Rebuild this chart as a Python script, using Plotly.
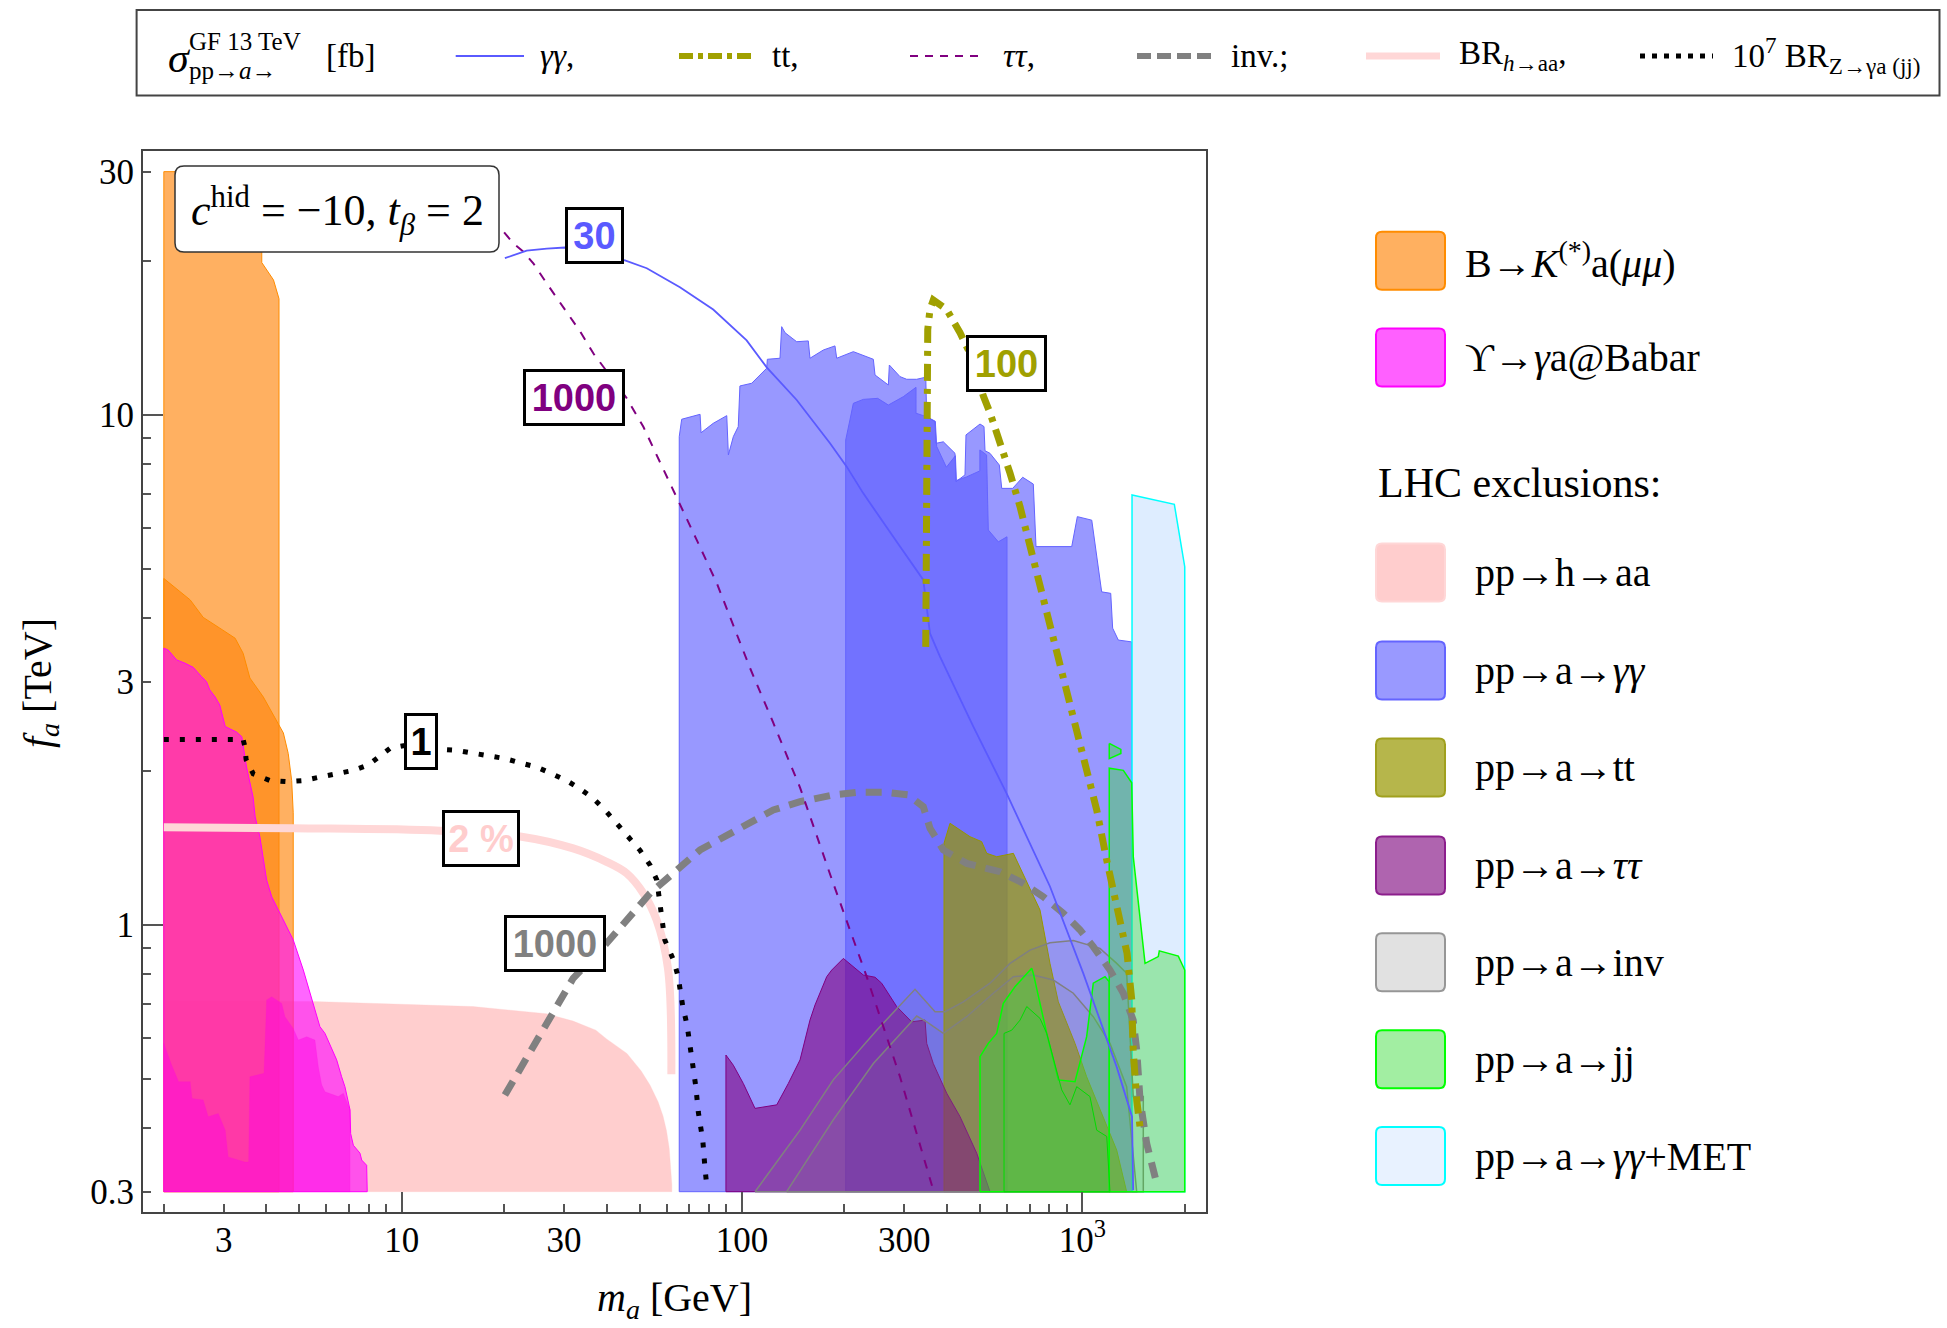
import numpy as np
import plotly.graph_objects as go

# ---------------- data: m_a [GeV] (x) and f_a [TeV] (y) ----------------
# B -> K(*) a(mu mu): two overlapping regions
bk_a_x = [2, 2, 3.88, 3.88, 4.2, 4.36, 4.36]
bk_a_y = [0.3, 30, 30, 19.9, 18.4, 16.9, 0.3]
bk_b_x = [2, 2, 2.39, 2.555, 2.61, 2.92, 3.24, 3.42, 3.58, 3.92, 4.29, 4.49, 4.64, 4.75, 4.8, 4.8]
bk_b_y = [0.3, 4.78, 4.34, 4.08, 4.01, 3.82, 3.65, 3.41, 3.05, 2.80, 2.52, 2.38, 2.17, 1.92, 1.66, 0.3]

# Upsilon -> gamma a @ Babar: two overlapping regions
ups1_x = [2, 2, 2.06, 2.18, 2.31, 2.44, 2.58, 2.67, 2.73, 2.83, 2.92, 3.03, 3.27, 3.39, 3.50, 3.66, 3.71, 3.83,
          4.01, 4.15, 4.49, 4.80, 5.14, 5.50, 5.75, 5.95, 6.44, 6.66, 6.81, 7.05, 7.08, 7.21, 7.54, 7.63, 7.89, 7.92]
ups1_y = [0.3, 3.49, 3.46, 3.31, 3.26, 3.20, 3.07, 3.00, 2.89, 2.80, 2.70, 2.45, 2.39, 2.34, 2.04, 1.78, 1.63, 1.49,
          1.225, 1.136, 1.023, 0.935, 0.816, 0.702, 0.632, 0.613, 0.544, 0.504, 0.482, 0.434, 0.390, 0.370, 0.357,
          0.346, 0.338, 0.3]
ups2_x = [2, 2, 2.10, 2.21, 2.39, 2.42, 2.61, 2.70, 2.89, 3.03, 3.09, 3.46, 3.55, 3.58, 3.94, 4.01, 4.15, 4.44,
          4.54, 4.80, 4.97, 5.26, 5.56, 5.69, 5.82, 5.95, 6.51, 6.74, 7.05, 7.05]
ups2_y = [0.3, 0.586, 0.535, 0.493, 0.493, 0.457, 0.454, 0.421, 0.427, 0.396, 0.351, 0.343, 0.343, 0.504, 0.512,
          0.713, 0.723, 0.702, 0.661, 0.627, 0.595, 0.604, 0.595, 0.527, 0.486, 0.471, 0.461, 0.468, 0.434, 0.3]

# pp -> h -> aa
haa_x = [2, 2, 5.5, 10.3, 16.2, 26.6, 31.9, 37.2, 40.0, 45.9, 50.5, 53.7, 56.7, 58.6, 60.0, 61.1, 61.8, 62.2, 62.2]
haa_y = [0.3, 0.71, 0.708, 0.700, 0.692, 0.670, 0.648, 0.622, 0.598, 0.560, 0.518, 0.485, 0.450, 0.422, 0.395,
         0.365, 0.335, 0.31, 0.3]

# pp -> a -> gamma gamma (two overlapping analyses)
gga_x = [65.4, 65.4, 66.5, 75.3, 75.8, 82.3, 90.2, 91.2, 94.3, 97.5, 98.6, 106.8, 118.2, 118.7, 129.3, 130.8,
         133.8, 144.8, 156.6, 158.4, 173.4, 187.6, 189.8, 212.4, 243.2, 246, 269.2, 271, 291.3, 304.8, 326.1,
         346.7, 349, 369.2, 371.7, 390.5, 422.6, 425.5, 452.1, 455.2, 500.5, 514.2, 517.7, 535.5, 570.3, 579.7,
         624.4, 668.1, 717.8, 731.1, 930.9, 967, 1066, 1140, 1212, 1228, 1276, 1397, 1397]
gga_y = [0.3, 9.07, 9.81, 10.03, 9.23, 9.63, 9.97, 8.35, 9.07, 9.49, 11.4, 11.54, 12.35, 12.86, 12.92, 14.9,
         14.5, 13.92, 13.97, 12.92, 13.41, 13.66, 12.92, 13.31, 12.86, 11.98, 11.45, 12.53, 11.89, 11.75, 11.75,
         11.86, 9.92, 9.70, 8.80, 8.86, 8.41, 7.40, 7.63, 9.14, 9.60, 9.49, 8.51, 8.41, 7.98, 7.18,
         7.18, 7.55, 7.32, 5.52, 5.52, 6.32, 6.22, 4.50, 4.47, 3.82, 3.62, 3.59, 0.3]
ggb_x = [201.7, 201.7, 207.6, 212.4, 227.2, 250.5, 269.2, 297.8, 324.6, 324.6, 349, 369.9, 373.2, 398.7, 423.8,
         426.4, 456.8, 500.1, 500.1, 523.3, 529.4, 566.6, 600.8, 600.8]
ggb_y = [0.3, 8.93, 9.78, 10.54, 10.73, 10.78, 10.46, 10.86, 11.33, 10.08, 9.92, 9.72, 8.68, 7.90, 8.32,
         7.44, 7.56, 7.77, 8.54, 8.35, 5.95, 5.64, 5.77, 0.3]

# pp -> a -> gamma gamma + MET
met_x = [1400, 1400, 1864, 2000, 2000]
met_y = [0.3, 6.97, 6.68, 5.04, 0.3]

# pp -> a -> tt
tt_x = [392.3, 392.3, 408.6, 467.7, 506.1, 523.9, 560.5, 627.2, 751.1, 803.5, 850.2, 951.9, 1030, 1127, 1262, 1350]
tt_y = [0.3, 1.446, 1.583, 1.49, 1.457, 1.382, 1.361, 1.382, 1.07, 0.841, 0.707, 0.586, 0.504, 0.434, 0.362, 0.3]

# pp -> a -> tau tau
tau_x = [89.7, 89.7, 94.3, 100.9, 109.2, 126.5, 136.8, 148.1, 158.4, 163.9, 177.4, 183.5, 198.5, 227.2, 246,
         257.3, 284.8, 315.2, 345, 349, 364.9, 399.5, 437.2, 489.4, 535.5]
tau_y = [0.3, 0.556, 0.531, 0.489, 0.437, 0.444, 0.489, 0.544, 0.651, 0.697, 0.792, 0.816, 0.860, 0.798, 0.790,
         0.769, 0.692, 0.646, 0.651, 0.586, 0.535, 0.468, 0.421, 0.357, 0.3]

# pp -> a -> inv (two curves)
inv1_x = [109.2, 148.1, 185.4, 248.8, 322.4, 369.2, 395, 447, 535.5, 613.2, 702.2, 803.5, 941, 1127, 1262, 1350,
          1412, 1511, 1511]
inv1_y = [0.3, 0.396, 0.497, 0.622, 0.748, 0.676, 0.676, 0.707, 0.769, 0.841, 0.893, 0.923, 0.932, 0.9, 0.841,
          0.804, 0.461, 0.461, 0.3]
inv2_x = [135.3, 185.4, 243.2, 326.1, 349, 390.5, 457.4, 547.6, 627.2, 717.8, 821.8, 941, 1077, 1206, 1350, 1445]
inv2_y = [0.3, 0.415, 0.535, 0.663, 0.646, 0.613, 0.661, 0.735, 0.792, 0.798, 0.78, 0.735, 0.661, 0.586, 0.482, 0.3]

# pp -> a -> jj (several pieces)
jj1_x = [1200, 1200, 1320, 1397, 1412, 1529, 1672, 1684, 1915, 2000, 2000]
jj1_y = [0.3, 2.03, 2.01, 1.90, 1.36, 0.841, 0.867, 0.890, 0.869, 0.816, 0.3]
jj0_x = [1200, 1298, 1298, 1200]
jj0_y = [2.27, 2.21, 2.17, 2.12]
jj2_x = [500.5, 500.5, 529.4, 560.5, 586.1, 634.3, 710.1, 717.8, 786.1, 850.2, 951.9, 1030, 1077.2, 1166, 1200, 1200]
jj2_y = [0.3, 0.552, 0.586, 0.613, 0.702, 0.757, 0.823, 0.804, 0.613, 0.497, 0.493, 0.604, 0.769, 0.792, 0.774, 0.3]
jj3_x = [588.8, 588.8, 620.3, 656.3, 686.7, 751.1, 786.1, 870, 920, 963, 1053, 1102.6, 1180, 1206]
jj3_y = [0.3, 0.613, 0.622, 0.651, 0.692, 0.656, 0.613, 0.475, 0.444, 0.482, 0.461, 0.396, 0.385, 0.3]

# contour lines
br2_x = [2, 4.8, 12.96, 22.5, 31.9, 40, 45.8, 51.3, 56.1, 60.6, 62.0]
br2_y = [1.555, 1.548, 1.531, 1.49, 1.413, 1.33, 1.263, 1.154, 1.023, 0.822, 0.51]

zga_x = [2, 3.42, 3.46, 3.49, 3.66, 4.10, 4.59, 5.14, 5.75, 6.44, 7.21, 7.98, 8.64, 9.24, 11.36, 12.96, 14.51,
         16.23, 17.97, 20.12, 22.27, 24.93, 27.6, 30.5, 33.4, 36.6, 39.6, 42.8, 46.3, 50.2, 53.7, 56.2, 59.3,
         63.0, 64.9, 66.9, 69.0, 71.1, 73.2, 74.4, 76.7, 77.9, 79.0]
zga_y = [2.31, 2.31, 2.24, 2.11, 1.98, 1.92, 1.91, 1.92, 1.95, 1.98, 2.01, 2.06, 2.15, 2.22, 2.28, 2.21, 2.20,
         2.17, 2.14, 2.12, 2.08, 2.04, 1.98, 1.92, 1.85, 1.77, 1.68, 1.58, 1.49, 1.40, 1.31, 1.225, 0.935,
         0.852, 0.792, 0.696, 0.635, 0.557, 0.481, 0.43, 0.378, 0.332, 0.303]

xinv_x = [20.1, 31.9, 40.0, 53.7, 75.3, 94.3, 123.6, 148.1, 185.4, 217.2, 266.2, 308.1, 341.0, 356.8, 390.5,
          457.4, 572.8, 670.8, 768.1, 879.6, 984.5, 1077, 1206, 1320, 1411, 1445, 1478, 1546, 1655]
xinv_y = [0.464, 0.786, 0.921, 1.154, 1.403, 1.524, 1.681, 1.745, 1.799, 1.82, 1.82, 1.799, 1.706, 1.548, 1.403,
          1.321, 1.272, 1.207, 1.136, 1.054, 0.978, 0.907, 0.816, 0.735, 0.651, 0.569, 0.454, 0.373, 0.311]

xtau_x = [20.0, 21.3, 22.8, 24.4, 26.7, 29.8, 33.4, 36.6, 45.8, 51.3, 57.4, 64.3, 73.6, 84.3, 94.3, 105.6, 123.6,
          148.1, 185.4, 232.5, 291.3, 364.9]
xtau_y = [22.8, 21.7, 20.9, 19.8, 18.1, 16.3, 14.6, 13.2, 10.8, 9.48, 8.1, 6.92, 5.69, 4.68, 3.85, 3.19, 2.49,
          1.86, 1.207, 0.792, 0.504, 0.302]

xgg_x = [20.1, 23.3, 26.7, 30.2, 45.3, 52.5, 65.7, 82.3, 103.2, 118.2, 144.8, 181.4, 203.1, 227.2, 291.3, 341,
         356.8, 381.8, 478.4, 599.6, 803.5, 1006.7, 1262, 1400, 1411]
xgg_y = [20.3, 21.0, 21.2, 21.3, 20.1, 19.4, 17.8, 16.1, 14.0, 12.4, 10.7, 8.80, 7.92, 7.02, 5.52, 4.75, 3.73,
         3.36, 2.45, 1.81, 1.19, 0.804, 0.527, 0.421, 0.302]

xtt_x = [346.7, 347.4, 349, 351.4, 356.8, 364.9, 399.5, 437.2, 478.4, 511.7, 535.5, 566.6, 613.2, 656.3, 702.2,
         751.1, 803.5, 859.8, 919.8, 984.5, 1053, 1102.6, 1179.7, 1262, 1353.6, 1397.5, 1411, 1445, 1477.7]
xtt_y = [3.51, 6.42, 11.4, 14.7, 16.1, 16.8, 16.1, 14.5, 12.8, 10.9, 10.1, 9.07, 7.69, 6.61, 5.52, 4.54, 3.79,
         3.16, 2.68, 2.24, 1.87, 1.68, 1.34, 1.086, 0.88, 0.713, 0.569, 0.454, 0.402]

# contour labels
lab_text = ["30", "1000", "100", "1", "2 %", "1000"]
lab_x = [36.9, 32.1, 597.6, 11.36, 17.1, 28.2]
lab_y = [22.5, 10.8, 12.6, 2.285, 1.48, 0.919]

# ticks
x_major = [3, 10, 30, 100, 300, 1000]
x_major_text = ["3", "10", "30", "100", "300", "10<sup>3</sup>"]
x_minor = [2, 4, 5, 6, 7, 8, 9, 20, 40, 50, 60, 70, 80, 90, 200, 400, 500, 600, 700, 800, 900, 2000]
x_long = [10, 100, 1000]
y_major = [0.3, 1, 3, 10, 30]
y_major_text = ["0.3", "1", "3", "10", "30"]
y_minor = [0.4, 0.5, 0.6, 0.7, 0.8, 0.9, 2, 4, 5, 6, 7, 8, 9, 20]
y_long = [1, 10]

# ---------------- figure ----------------
W, H = 1947, 1328
PX0, PX1, PY0, PY1 = 143, 1206, 151, 1212
XR = [0.2398, 3.3635]
YR = [-0.5627, 1.5176]


def pxp(v):
    return (v - PX0) / (PX1 - PX0)


def pyp(v):
    return (PY1 - v) / (PY1 - PY0)


fig = go.Figure()


def poly(x, y, fill, lcol, lw):
    fig.add_trace(go.Scatter(x=list(x) + [x[0]], y=list(y) + [y[0]], mode="lines", fill="toself",
                             fillcolor=fill, line=dict(color=lcol, width=lw),
                             hoverinfo="skip", showlegend=False))


def curve(x, y, col, lw, dash, shape="linear"):
    fig.add_trace(go.Scatter(x=x, y=y, mode="lines", line=dict(color=col, width=lw, dash=dash, shape=shape),
                             hoverinfo="skip", showlegend=False))


ORANGE_F = "rgba(255,133,12,0.65)"
MAG_F = "rgba(255,0,255,0.6)"
PINK_F = "rgba(255,190,190,0.75)"
BLUE_F = "rgba(92,92,255,0.63)"
MET_F = "rgba(200,225,255,0.6)"
OLIVE_F = "rgba(150,150,0,0.7)"
PURP_F = "rgba(128,0,128,0.6)"
INV_F = "rgba(128,128,128,0.12)"
GREEN_F = "rgba(60,220,60,0.42)"

poly(haa_x, haa_y, PINK_F, "rgba(255,200,200,0.6)", 0.5)
poly(bk_a_x, bk_a_y, ORANGE_F, "rgb(255,140,0)", 1)
poly(bk_b_x, bk_b_y, ORANGE_F, "rgb(255,140,0)", 1)
poly(ups1_x, ups1_y, MAG_F, "rgb(255,0,255)", 1)
poly(ups2_x, ups2_y, "rgba(255,0,230,0.45)", "rgba(255,0,230,0.3)", 0.5)
poly(gga_x, gga_y, BLUE_F, "rgb(100,100,255)", 1)
poly(ggb_x, ggb_y, BLUE_F, "rgb(100,100,255)", 1)
poly(met_x, met_y, MET_F, "rgb(0,255,255)", 1.5)
poly(tt_x, tt_y, OLIVE_F, "rgb(150,150,0)", 1)
poly(tau_x, tau_y, PURP_F, "rgb(128,0,128)", 1)
poly(inv1_x, inv1_y, INV_F, "rgb(128,128,128)", 1.5)
poly(inv2_x, inv2_y, INV_F, "rgb(128,128,128)", 1.5)
poly(jj1_x, jj1_y, GREEN_F, "rgb(0,255,0)", 1.5)
poly(jj0_x, jj0_y, GREEN_F, "rgb(0,255,0)", 1.5)
poly(jj2_x, jj2_y, GREEN_F, "rgb(0,255,0)", 1.5)
poly(jj3_x, jj3_y, "rgba(60,200,60,0.28)", "rgb(0,220,0)", 1)

curve(br2_x, br2_y, "rgb(255,215,215)", 8, "solid", "spline")
curve(zga_x, zga_y, "black", 5, "5px,11px")
curve(xinv_x, xinv_y, "rgb(128,128,128)", 7, "16px,10px")
curve(xtau_x, xtau_y, "rgb(128,0,128)", 2, "9px,9px")
curve(xgg_x, xgg_y, "rgb(90,90,255)", 1.8, "solid")
curve(xtt_x, xtt_y, "rgb(160,160,0)", 7, "17px,8px,5px,8px")

# overlay axes carrying the longer decade ticks
fig.add_trace(go.Scatter(x=[], y=[], xaxis="x2", yaxis="y2", showlegend=False, hoverinfo="skip"))

SERIF = "Liberation Serif"
SANS = "Liberation Sans"
TICKC = "#555555"

fig.update_layout(
    width=W, height=H,
    margin=dict(l=PX0, r=W - PX1, t=PY0, b=H - PY1, autoexpand=False),
    plot_bgcolor="white", paper_bgcolor="white", showlegend=False,
    font=dict(family=SERIF, size=34, color="black"),
    xaxis=dict(type="log", range=XR, tickmode="array", tickvals=x_major, ticktext=x_major_text,
               ticks="inside", ticklen=8, tickwidth=1.5, tickcolor=TICKC, ticklabelstandoff=-4,
               showline=True, linecolor="#444444", linewidth=2, mirror=True,
               showgrid=False, zeroline=False, tickfont=dict(family=SERIF, size=35),
               minor=dict(tickmode="array", tickvals=x_minor, ticks="inside", ticklen=8, tickwidth=1.5,
                          tickcolor=TICKC, showgrid=False)),
    yaxis=dict(type="log", range=YR, tickmode="array", tickvals=y_major, ticktext=y_major_text,
               ticks="inside", ticklen=8, tickwidth=1.5, tickcolor=TICKC,
               showline=True, linecolor="#444444", linewidth=2, mirror=True,
               showgrid=False, zeroline=False, tickfont=dict(family=SERIF, size=35),
               minor=dict(tickmode="array", tickvals=y_minor, ticks="inside", ticklen=8, tickwidth=1.5,
                          tickcolor=TICKC, showgrid=False)),
    xaxis2=dict(type="log", range=XR, overlaying="x", anchor="y", side="bottom", tickmode="array",
                tickvals=x_long, ticks="inside", ticklen=20, tickwidth=1.5, tickcolor=TICKC,
                showticklabels=False, showline=False, showgrid=False, zeroline=False),
    yaxis2=dict(type="log", range=YR, overlaying="y", anchor="x", side="left", tickmode="array",
                tickvals=y_long, ticks="inside", ticklen=20, tickwidth=1.5, tickcolor=TICKC,
                showticklabels=False, showline=False, showgrid=False, zeroline=False),
)

shapes = []
ann = []


def rrect(x0, y0, x1, y1, r, fill, lcol, lw):
    rx = r / (PX1 - PX0)
    ry = r / (PY1 - PY0)
    a0, a1 = pxp(x0), pxp(x1)
    b0, b1 = pyp(y1), pyp(y0)  # b0 bottom, b1 top
    path = (f"M {a0 + rx},{b0} L {a1 - rx},{b0} Q {a1},{b0} {a1},{b0 + ry} "
            f"L {a1},{b1 - ry} Q {a1},{b1} {a1 - rx},{b1} L {a0 + rx},{b1} Q {a0},{b1} {a0},{b1 - ry} "
            f"L {a0},{b0 + ry} Q {a0},{b0} {a0 + rx},{b0} Z")
    shapes.append(dict(type="path", path=path, xref="paper", yref="paper", fillcolor=fill,
                       line=dict(color=lcol, width=lw), layer="above"))


def text(xp, yp, s, size, anchor="left", family=SERIF, color="black", angle=0):
    ann.append(dict(x=pxp(xp), y=pyp(yp), xref="paper", yref="paper", text=s, showarrow=False,
                    xanchor=anchor, yanchor="middle", textangle=angle,
                    font=dict(family=family, size=size, color=color)))


# parameter box
rrect(175, 166, 499, 252, 9, "white", "#333333", 1.5)
text(337, 211, "<i>c</i><sup>hid</sup> = −10, <i>t</i><sub><i>β</i></sub> = 2", 44, "center")

# contour labels (data coordinates)
lab_col = ["rgb(90,90,255)", "rgb(128,0,128)", "rgb(160,160,0)", "black", "rgb(255,205,205)", "rgb(128,128,128)"]
lab_w = [53, 96, 75, 28, 72, 96]
for t, lx, ly, c, w in zip(lab_text, lab_x, lab_y, lab_col, lab_w):
    ann.append(dict(x=np.log10(lx), y=np.log10(ly), xref="x", yref="y", text=f"<b>{t}</b>", showarrow=False,
                    xanchor="center", yanchor="middle", width=w, height=51, bgcolor="white",
                    bordercolor="black", borderwidth=3, borderpad=0,
                    font=dict(family=SANS, size=38, color=c)))

# axis titles
text(674, 1300, "<i>m</i><sub><i>a</i></sub> [GeV]", 40, "center")
text(40, 683, "<i>f</i><sub><i>a</i></sub> [TeV]", 40, "center", angle=-90)

# top legend box
shapes.append(dict(type="rect", xref="paper", yref="paper", x0=pxp(136.6), x1=pxp(1939.5),
                   y0=pyp(95.6), y1=pyp(9.9), line=dict(color="#444444", width=2), fillcolor="white",
                   layer="above"))
TY = 56
text(166, TY + 2, "<i>σ</i>", 42)
text(187, 41, "GF 13 TeV", 25)
text(187, 70, "pp→<i>a</i>→", 25)
text(324, TY, "[fb]", 33)
samples = [(455.7, 524, "rgb(90,90,255)", 2, "solid", 537.6, "<i>γγ</i>,"),
           (679, 754, "rgb(160,160,0)", 6, "14px,5px,5px,5px", 770, "tt,"),
           (910, 983, "rgb(128,0,128)", 2, "8px,7px", 1000.8, "<i>ττ</i>,"),
           (1137, 1213, "rgb(128,128,128)", 6, "14px,6px", 1229.3, "inv.;"),
           (1366, 1440, "rgb(255,215,215)", 7, "solid", 1456.5, "BR<sub><i>h</i>→aa</sub>,"),
           (1640, 1713, "black", 5, "5px,7px", 1730, "10<sup>7</sup> BR<sub>Z→γa (jj)</sub>")]
for x0, x1, c, lw, d, tx, s in samples:
    shapes.append(dict(type="line", xref="paper", yref="paper", x0=pxp(x0), x1=pxp(x1), y0=pyp(TY),
                       y1=pyp(TY), line=dict(color=c, width=lw, dash=d), layer="above"))
    text(tx, TY, s, 33)

# right legend
leg_labels = ["B→<i>K</i><sup>(*)</sup>a(<i>μμ</i>)", "ϒ→<i>γ</i>a@Babar", "pp→h→aa", "pp→a→<i>γγ</i>",
              "pp→a→tt", "pp→a→<i>ττ</i>", "pp→a→inv", "pp→a→jj", "pp→a→<i>γγ</i>+MET"]
leg_fill = ["rgb(255,176,96)", "rgb(255,96,255)", "rgb(255,205,205)", "rgb(153,153,255)", "rgb(182,182,75)",
            "rgb(175,100,175)", "rgb(225,225,225)", "rgb(162,238,162)", "rgb(232,242,255)"]
leg_line = ["rgb(255,140,0)", "rgb(255,0,255)", "rgb(255,215,215)", "rgb(100,100,255)", "rgb(160,160,30)",
            "rgb(140,30,140)", "rgb(150,150,150)", "rgb(0,255,0)", "rgb(0,255,255)"]
leg_yc = [260.8, 357.6, 572.4, 670.5, 767.4, 865.5, 962.3, 1059.2, 1156]
leg_tx = [1462.7, 1462.7] + [1472.6] * 7
for s, f, l, yc, tx in zip(leg_labels, leg_fill, leg_line, leg_yc, leg_tx):
    rrect(1376, yc - 29, 1445, yc + 29, 6, f, l, 2)
    text(tx, yc, s, 40)
text(1376, 483, "LHC exclusions:", 42)

fig.update_layout(shapes=shapes, annotations=ann)
fig.write_html("out.html")
